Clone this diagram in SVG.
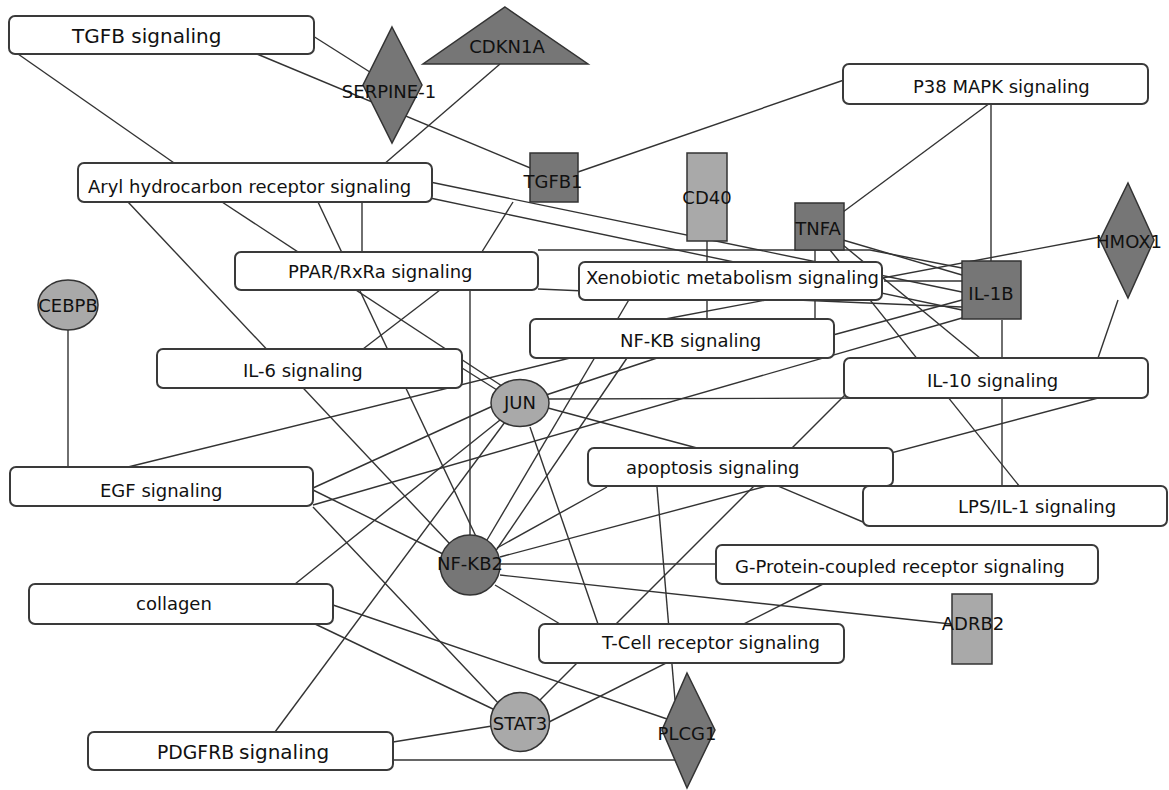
<svg xmlns="http://www.w3.org/2000/svg" width="1169" height="790" viewBox="0 0 1169 790">
<style>
.e{stroke:#333;stroke-width:1.4;fill:none}
.box{fill:#fff;stroke:#3a3a3a;stroke-width:2}
.t{font-family:"DejaVu Sans",sans-serif;font-size:18px;fill:#111}
.c{text-anchor:middle}
.dark{fill:#767676;stroke:#333;stroke-width:1.5}
.light{fill:#a9a9a9;stroke:#333;stroke-width:1.5}
</style>
<rect width="1169" height="790" fill="#fff"/>
<g id="connectors">
<line class="e" x1="313" y1="36" x2="392" y2="86"/>
<line class="e" x1="257" y1="54" x2="540" y2="172"/>
<line class="e" x1="18" y1="54" x2="177" y2="165"/>
<line class="e" x1="500" y1="64" x2="383" y2="165"/>
<line class="e" x1="578" y1="172" x2="844" y2="80"/>
<line class="e" x1="513" y1="202" x2="480" y2="255"/>
<line class="e" x1="991" y1="103" x2="991" y2="262"/>
<line class="e" x1="990" y1="103" x2="843" y2="212"/>
<line class="e" x1="430" y1="182" x2="962" y2="292"/>
<line class="e" x1="430" y1="198" x2="962" y2="310"/>
<line class="e" x1="222" y1="202" x2="505" y2="388"/>
<line class="e" x1="318" y1="202" x2="480" y2="545"/>
<line class="e" x1="362" y1="202" x2="362" y2="252"/>
<line class="e" x1="128" y1="202" x2="465" y2="560"/>
<line class="e" x1="440" y1="290" x2="363" y2="349"/>
<line class="e" x1="470" y1="290" x2="470" y2="535"/>
<path class="e" d="M538,250 L870,250 L962,268"/>
<line class="e" x1="538" y1="289" x2="962" y2="307"/>
<line class="e" x1="462" y1="368" x2="497" y2="390"/>
<line class="e" x1="68" y1="330" x2="68" y2="467"/>
<line class="e" x1="128" y1="467" x2="570" y2="358"/>
<line class="e" x1="313" y1="488" x2="495" y2="405"/>
<line class="e" x1="313" y1="505" x2="962" y2="318"/>
<line class="e" x1="313" y1="490" x2="445" y2="555"/>
<line class="e" x1="313" y1="507" x2="500" y2="705"/>
<line class="e" x1="640" y1="281" x2="487" y2="540"/>
<line class="e" x1="627" y1="358" x2="495" y2="552"/>
<line class="e" x1="657" y1="358" x2="540" y2="397"/>
<line class="e" x1="833" y1="335" x2="962" y2="300"/>
<line class="e" x1="707" y1="240" x2="707" y2="320"/>
<line class="e" x1="815" y1="250" x2="815" y2="320"/>
<line class="e" x1="1100" y1="237" x2="660" y2="320"/>
<line class="e" x1="843" y1="240" x2="962" y2="275"/>
<line class="e" x1="843" y1="245" x2="980" y2="358"/>
<line class="e" x1="830" y1="250" x2="1020" y2="487"/>
<line class="e" x1="884" y1="281" x2="962" y2="281"/>
<line class="e" x1="1002" y1="320" x2="1002" y2="487"/>
<line class="e" x1="1118" y1="300" x2="1098" y2="358"/>
<line class="e" x1="500" y1="557" x2="1098" y2="398"/>
<line class="e" x1="546" y1="399" x2="880" y2="398"/>
<line class="e" x1="548" y1="408" x2="697" y2="448"/>
<line class="e" x1="740" y1="470" x2="863" y2="522"/>
<line class="e" x1="530" y1="427" x2="598" y2="624"/>
<line class="e" x1="500" y1="564" x2="716" y2="564"/>
<line class="e" x1="500" y1="575" x2="960" y2="625"/>
<line class="e" x1="495" y1="585" x2="560" y2="624"/>
<line class="e" x1="497" y1="548" x2="607" y2="487"/>
<line class="e" x1="333" y1="605" x2="670" y2="720"/>
<line class="e" x1="313" y1="623" x2="495" y2="710"/>
<line class="e" x1="295" y1="584" x2="500" y2="420"/>
<line class="e" x1="275" y1="732" x2="505" y2="422"/>
<line class="e" x1="393" y1="742" x2="492" y2="726"/>
<line class="e" x1="393" y1="760" x2="675" y2="760"/>
<line class="e" x1="850" y1="390" x2="540" y2="700"/>
<line class="e" x1="549" y1="722" x2="823" y2="584"/>
<line class="e" x1="657" y1="487" x2="675" y2="700"/>
</g>
<g id="n-tgfb-sig"><rect class="box" x="9" y="16" width="305" height="38" rx="6"/><text class="t" x="72" y="43" style="font-size:20px">TGFB signaling</text></g>
<g id="n-aryl"><rect class="box" x="78" y="163" width="354" height="39" rx="6"/><text class="t" x="88" y="193">Aryl hydrocarbon receptor signaling</text></g>
<g id="n-p38"><rect class="box" x="843" y="64" width="305" height="40" rx="6"/><text class="t" x="913" y="93">P38 MAPK signaling</text></g>
<g id="n-ppar"><rect class="box" x="235" y="252" width="303" height="38" rx="6"/><text class="t" x="288" y="278">PPAR/RxRa signaling</text></g>
<g id="n-xeno"><rect class="box" x="579" y="262" width="303" height="38" rx="6"/><text class="t" x="586" y="284">Xenobiotic metabolism signaling</text></g>
<g id="n-nfkb-sig"><rect class="box" x="530" y="319" width="304" height="39" rx="6"/><text class="t" x="620" y="347">NF-KB signaling</text></g>
<g id="n-il6"><rect class="box" x="157" y="349" width="305" height="39" rx="6"/><text class="t" x="243" y="377">IL-6 signaling</text></g>
<g id="n-il10"><rect class="box" x="844" y="358" width="304" height="40" rx="6"/><text class="t" x="927" y="387">IL-10 signaling</text></g>
<g id="n-egf"><rect class="box" x="10" y="467" width="303" height="39" rx="6"/><text class="t" x="100" y="497">EGF signaling</text></g>
<g id="n-apoptosis"><rect class="box" x="588" y="448" width="305" height="38" rx="6"/><text class="t" x="626" y="474">apoptosis signaling</text></g>
<g id="n-lps"><rect class="box" x="863" y="486" width="304" height="40" rx="6"/><text class="t" x="958" y="513">LPS/IL-1 signaling</text></g>
<g id="n-gpcr"><rect class="box" x="716" y="545" width="382" height="39" rx="6"/><text class="t" x="735" y="573">G-Protein-coupled receptor signaling</text></g>
<g id="n-collagen"><rect class="box" x="29" y="584" width="304" height="40" rx="6"/><text class="t" x="136" y="610">collagen</text></g>
<g id="n-tcell"><rect class="box" x="539" y="624" width="305" height="39" rx="6"/><text class="t" x="602" y="649">T-Cell receptor signaling</text></g>
<g id="n-pdgfrb"><rect class="box" x="88" y="732" width="305" height="38" rx="6"/><text class="t" x="157" y="759" style="font-size:18.8px">PDGFRB<tspan x="239" style="font-size:20px">signaling</tspan></text></g>
<g id="n-serpine1"><polygon class="dark" points="392,27 422,85 392,143 363,85"/><text class="t c" x="389" y="98">SERPINE-1</text></g>
<g id="n-cdkn1a"><polygon class="dark" points="505,7 588,64 423,64"/><text class="t c" x="507" y="53">CDKN1A</text></g>
<g id="n-tgfb1"><rect class="dark" x="530" y="153" width="48" height="49"/><text class="t c" x="553" y="188">TGFB1</text></g>
<g id="n-cd40"><rect class="light" x="687" y="153" width="40" height="88"/><text class="t c" x="707" y="204">CD40</text></g>
<g id="n-tnfa"><rect class="dark" x="795" y="203" width="49" height="47"/><text class="t c" x="818" y="235">TNFA</text></g>
<g id="n-il1b"><rect class="dark" x="962" y="261" width="59" height="58"/><text class="t c" x="991" y="300">IL-1B</text></g>
<g id="n-hmox1"><polygon class="dark" points="1128,183 1154,240 1128,298 1100,240"/><text class="t c" x="1129" y="248">HMOX1</text></g>
<g id="n-cebpb"><ellipse class="light" cx="68" cy="305" rx="30" ry="25"/><text class="t c" x="68" y="312">CEBPB</text></g>
<g id="n-jun"><ellipse class="light" cx="520" cy="403" rx="29" ry="23.5"/><text class="t c" x="520" y="409">JUN</text></g>
<g id="n-nfkb2"><circle class="dark" cx="470" cy="565" r="30"/><text class="t c" x="470" y="570">NF-KB2</text></g>
<g id="n-stat3"><circle class="light" cx="520" cy="722" r="29.5"/><text class="t c" x="520" y="730">STAT3</text></g>
<g id="n-plcg1"><polygon class="dark" points="687,673 715,730 687,788 662,730"/><text class="t c" x="687" y="740">PLCG1</text></g>
<g id="n-adrb2"><rect class="light" x="952" y="594" width="40" height="70"/><text class="t c" x="973" y="630">ADRB2</text></g>
</svg>
